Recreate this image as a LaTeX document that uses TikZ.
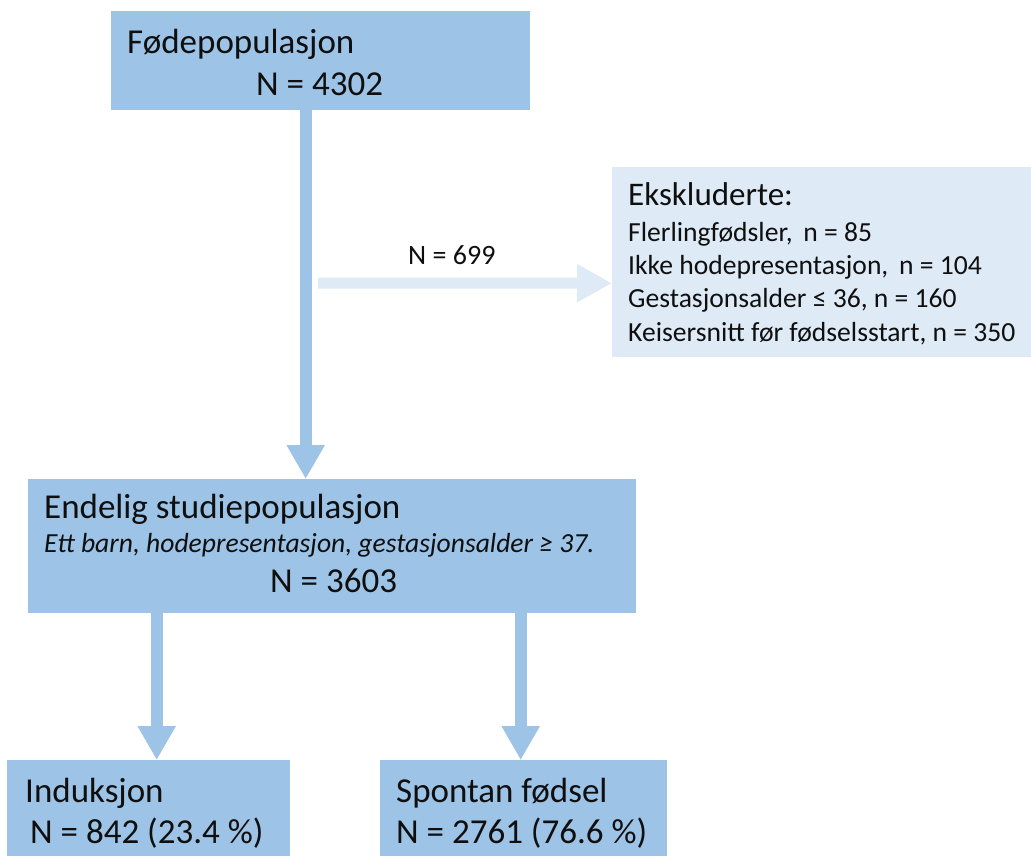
\documentclass[tikz,border=0pt]{standalone}
\usepackage{fontspec}
\setmainfont{Carlito}
\usetikzlibrary{arrows.meta}
\definecolor{boxblue}{RGB}{157,195,230}
\definecolor{paleblue}{RGB}{222,235,247}
\definecolor{txtcol}{RGB}{15,15,15}
\begin{document}
\begin{tikzpicture}[x=1pt,y=-1pt,
  box/.style={fill=boxblue, draw=none, inner sep=0pt, anchor=north west},
  palebox/.style={fill=paleblue, draw=none, inner sep=0pt, anchor=north west},
  big/.style={font=\fontsize{35}{40}\selectfont, text=txtcol, inner sep=0pt, anchor=base west},
  small/.style={font=\fontsize{27.6}{32}\selectfont, text=txtcol, inner sep=0pt, anchor=base west},
  smallit/.style={font=\fontsize{27.6}{32}\selectfont\itshape, text=txtcol, inner sep=0pt, anchor=base west},
  bigarrow/.style={draw=boxblue, line width=12pt, -{Triangle[width=36pt,length=34pt]}},
  palearrow/.style={draw=paleblue, line width=11pt, -{Triangle[width=36pt,length=35pt]}}
]
\useasboundingbox (0,0) rectangle (1031,855);

% boxes
\node[box, minimum width=419pt, minimum height=99pt] (top) at (111,11) {};
\node[palebox, minimum width=419pt, minimum height=190pt] (excl) at (612,167) {};
\node[box, minimum width=608pt, minimum height=134pt] (mid) at (28,479) {};
\node[box, minimum width=283pt, minimum height=100pt] (ind) at (7,760) {};
\node[box, minimum width=287pt, minimum height=100pt] (spon) at (380,760) {};

% texts
\node[big] (t1) at (127,53) {Fødepopulasjon};
\node[big] (t2) at (256,95) {N = 4302};

\node[big, font=\fontsize{33}{38}\selectfont] (e0) at (628,205) {Ekskluderte:};
\node[small] (e1) at (628,241) {Flerlingfødsler,\, n = 85};
\node[small] (e2) at (628,274) {Ikke hodepresentasjon,\, n = 104};
\node[small] (e3) at (628,307) {Gestasjonsalder ≤ 36, n = 160};
\node[small] (e4) at (628,341) {Keisersnitt før fødselsstart, n = 350};

\node[small, font=\fontsize{28}{32}\selectfont] (n699) at (408,264) {N = 699};

\node[big] (m1) at (44,518) {Endelig studiepopulasjon};
\node[smallit] (m2) at (44,552) {Ett barn, hodepresentasjon, gestasjonsalder ≥ 37.};
\node[big] (m3) at (270,592) {N = 3603};

\node[big] (b1) at (25,802) {Induksjon};
\node[big] (b2) at (30,843) {N = 842 (23.4 \%)};
\node[big] (c1) at (396,802) {Spontan fødsel};
\node[big] (c2) at (396,843) {N = 2761 (76.6 \%)};

% connectors
\coordinate (branch) at (318,283);
\draw[palearrow] (branch) -- ([yshift=-21pt]excl.west);
\draw[bigarrow] ([xshift=-15pt]top.south) -- ([xshift=-15pt]top.south |- mid.north);
\draw[bigarrow] ([xshift=8pt]ind.north |- mid.south) -- ([xshift=8pt]ind.north);
\draw[bigarrow] ([xshift=-3pt]spon.north |- mid.south) -- ([xshift=-3pt]spon.north);
\end{tikzpicture}
\end{document}
